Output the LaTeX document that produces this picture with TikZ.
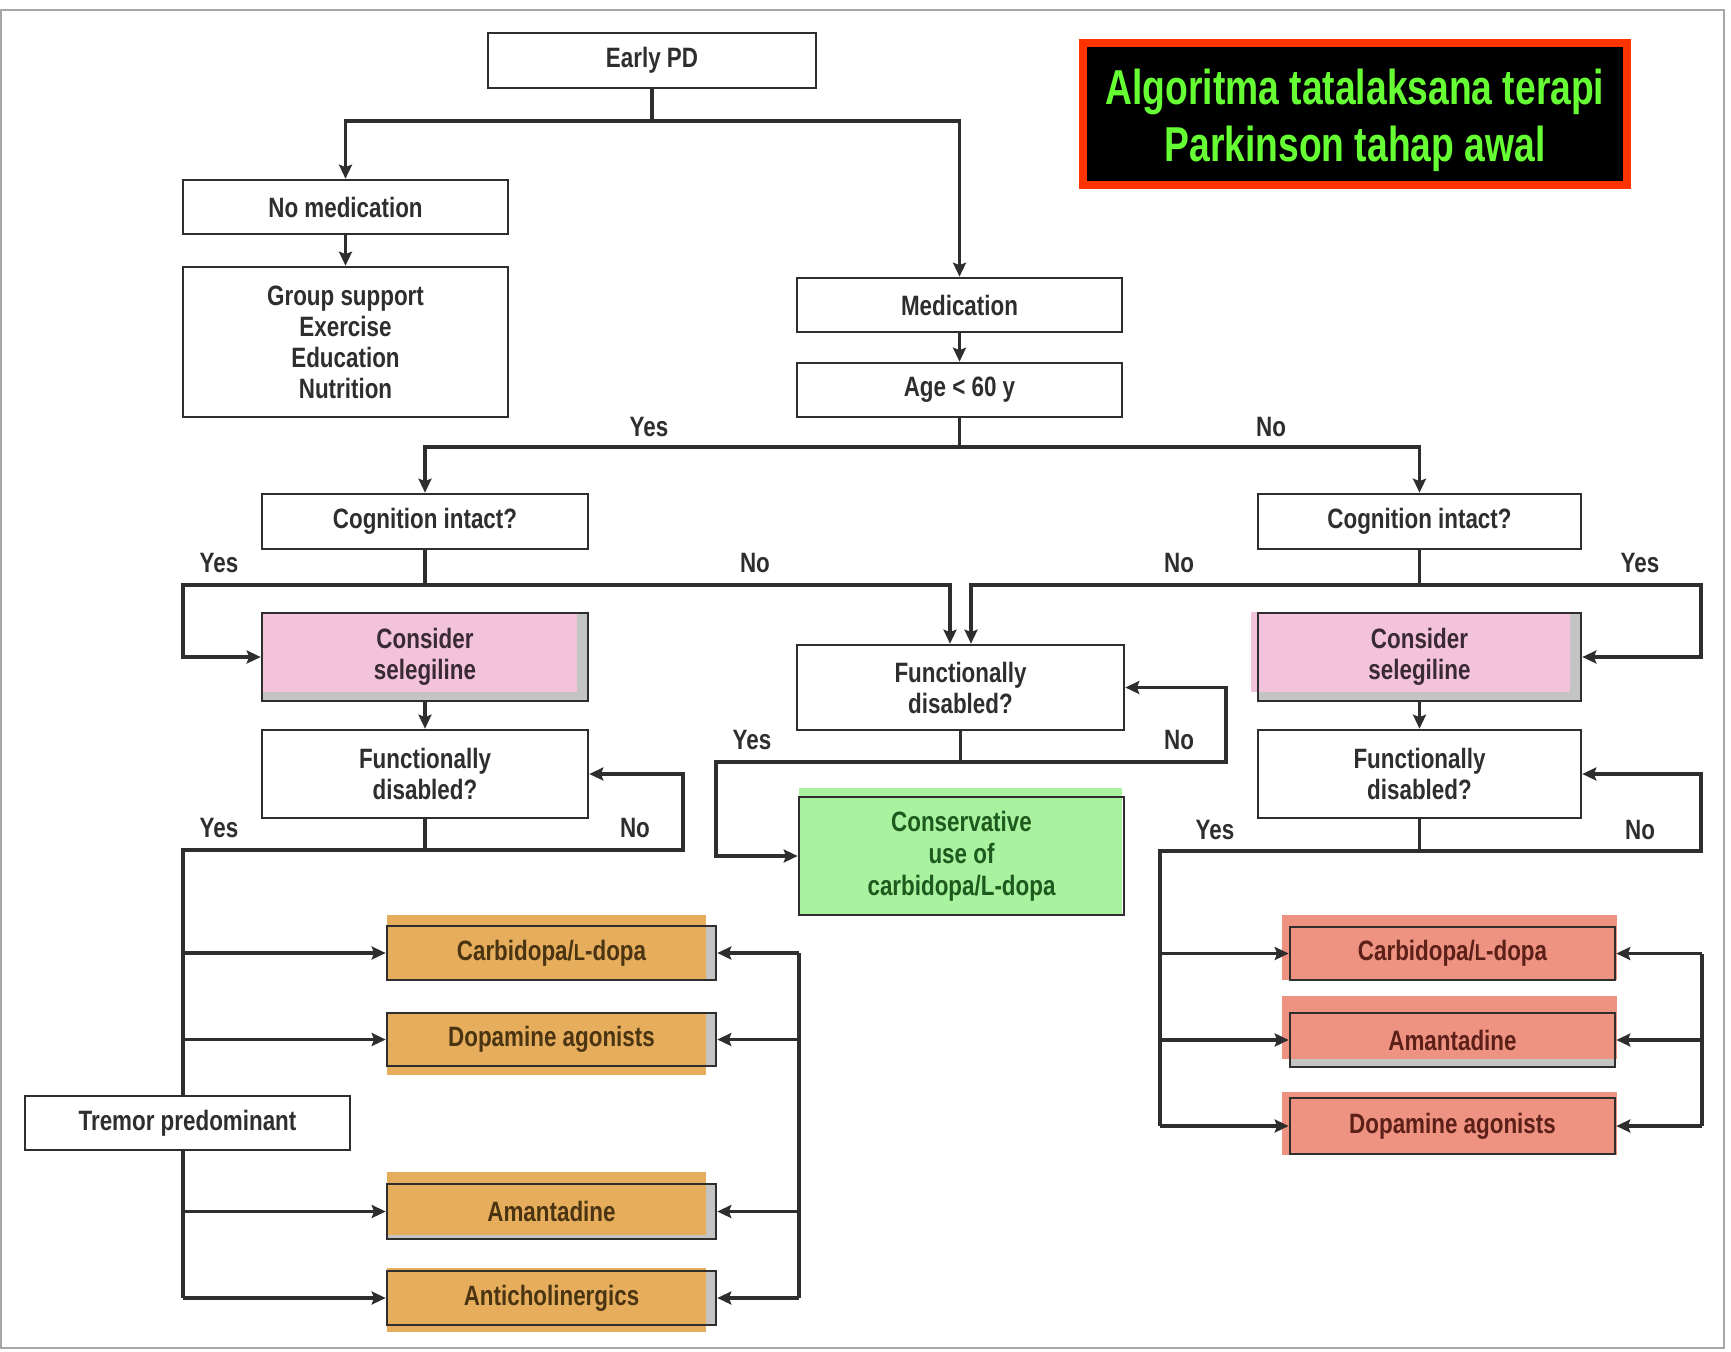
\documentclass[tikz,border=0pt]{standalone}
\usepackage{fontspec}
\setmainfont[FakeStretch=0.8]{Liberation Sans}
\newfontfamily\titlefont[FakeStretch=0.76]{Liberation Sans}
\usetikzlibrary{arrows.meta,calc}
\definecolor{ink}{HTML}{2E2E2E}
\definecolor{pinkhl}{HTML}{F2C3DA}
\definecolor{orangehl}{HTML}{E6AE5C}
\definecolor{redhl}{HTML}{EE9382}
\definecolor{greenhl}{HTML}{A9F29F}
\definecolor{titlered}{HTML}{FF3300}
\definecolor{titlegreen}{HTML}{66FF33}
\definecolor{pinkink}{HTML}{3A2A33}
\definecolor{orink}{HTML}{4A3412}
\definecolor{redink}{HTML}{5C2018}
\definecolor{greenink}{HTML}{1E5A1E}
\definecolor{boxshade}{HTML}{C4C4C4}
\newcommand\boxfont{\bfseries\fontsize{14}{15.5}\selectfont}
\newcommand\smL{{\fontsize{11.5}{13}\selectfont L}}
\pgfdeclarelayer{bg}
\pgfsetlayers{bg,main}
\tikzset{
  box/.style={draw=ink, line width=1.3pt, minimum width=162.5pt, minimum height=27pt,
    inner sep=0pt, align=center, font=\boxfont, text=ink},
  conn/.style={draw=ink, line width=1.9pt},
  arr/.style={conn, -{Stealth[length=7pt,width=6.5pt,inset=1.2pt]}},
  lbl/.style={font=\boxfont, text=ink, inner sep=0pt},
}
\begin{document}
\begin{tikzpicture}[x=0.5pt,y=-0.5pt]
\useasboundingbox (0,0) rectangle (1731,1351);
\draw[gray!70, line width=1pt] (1,10) rectangle (1724,1348);

% title
\node[draw=titlered, line width=4pt, fill=black, minimum width=272pt, minimum height=71pt,
  inner sep=0pt, align=center, text=titlegreen,
  font=\titlefont\bfseries\fontsize{24.5}{28.5}\selectfont] (title) at (1355,114)
  {\rule{0pt}{24.5pt}Algoritma tatalaksana terapi\\Parkinson tahap awal};

% nodes
\node[box, minimum width=164pt, minimum height=27.5pt] (early) at (652,60.5) {Early PD};
\node[box] (nomed) at (345.5,207) {No medication};
\node[box, minimum height=75pt] (group) at (345.5,342) {Group support\\Exercise\\Education\\Nutrition};
\node[box] (med) at (959.5,305) {Medication};
\node[box] (age) at (959.5,390) {Age < 60 y};
\node[box, minimum width=163pt, minimum height=27.5pt] (cogL) at (425,521.5) {Cognition intact?};
\node[box, minimum width=161.5pt, minimum height=27.5pt] (cogR) at (1419.5,521.5) {Cognition intact?};
\node[box, minimum width=163pt, minimum height=44pt, text=pinkink] (selL) at (425,657) {Consider\\selegiline};
\node[box, minimum width=161.5pt, minimum height=44pt, text=pinkink] (selR) at (1419.5,657) {Consider\\selegiline};
\node[box, minimum width=163pt, minimum height=44pt] (funL) at (425,774) {Functionally\\disabled?};
\node[box, minimum width=161.5pt, minimum height=44pt] (funR) at (1419.5,774) {Functionally\\disabled?};
\node[box, minimum width=163.5pt, minimum height=42.5pt] (funM) at (960.5,687.5) {Functionally\\disabled?};
\node[box, minimum height=59pt, text=greenink, font=\bfseries\fontsize{14}{16}\selectfont] (cons) at (961.5,856) {Conservative\\use of\\carbidopa/L-dopa};
\node[box, fill=white] (tremor) at (187.5,1123) {Tremor predominant};
\node[box, minimum width=164.5pt, text=orink] (carbL) at (551.5,953) {Carbidopa/\smL-dopa};
\node[box, minimum width=164.5pt, minimum height=26.5pt, text=orink] (dopaL) at (551.5,1039.5) {Dopamine agonists};
\node[box, minimum width=164.5pt, minimum height=27.5pt, text=orink] (amanL) at (551.5,1211.5) {Amantadine};
\node[box, minimum width=164.5pt, text=orink] (antiL) at (551.5,1298) {Anticholinergics};
\node[box, minimum height=26.5pt, text=redink] (carbR) at (1452.5,953.5) {Carbidopa/\smL-dopa};
\node[box, text=redink] (amanR) at (1452.5,1040) {Amantadine};
\node[box, minimum height=28pt, text=redink] (dopaR) at (1452.5,1126) {Dopamine agonists};

% highlights
\begin{pgfonlayer}{bg}
  \foreach \n in {selL,selR,carbL,dopaL,amanL,antiL,carbR,amanR,dopaR}
    \fill[boxshade] (\n.north west) rectangle (\n.south east);
  \fill[pinkhl] (261,612) rectangle (577,692);
  \fill[pinkhl] (1251,612) rectangle (1570,692);
  \fill[greenhl] (799,788) rectangle (1122,915);
  \fill[orangehl] (387,915) rectangle (706,980);
  \fill[orangehl] (387,1013) rectangle (706,1075);
  \fill[orangehl] (387,1172) rectangle (706,1235);
  \fill[orangehl] (387,1268) rectangle (706,1332);
  \fill[redhl] (1282,915) rectangle (1617,980);
  \fill[redhl] (1282,996) rectangle (1617,1059);
  \fill[redhl] (1282,1092) rectangle (1617,1155);
\end{pgfonlayer}

% connectors
\coordinate (j1) at (652,121);
\draw[conn] (early) -- (j1);
\draw[arr] (j1) -| (nomed);
\draw[arr] (j1) -| (med);
\draw[arr] (nomed) -- (group);
\draw[arr] (med) -- (age);

\coordinate (j2) at (959.5,447);
\draw[conn] (age) -- (j2);
\draw[arr] (j2) -| (cogL);
\draw[arr] (j2) -| (cogR);
\node[lbl] (yes1) at (649,427) {Yes};
\node[lbl] (no1) at (1271,427) {No};

\coordinate (j3) at (425,585);
\coordinate (c3l) at (183,585);
\coordinate (c3r) at (950,585);
\draw[conn] (cogL) -- (j3);
\draw[arr] (j3) -- (c3l) |- (selL);
\draw[arr] (j3) -- (c3r) -- (c3r |- funM.north);
\node[lbl] (yes2) at (219,563) {Yes};
\node[lbl] (no2) at (755,563) {No};

\coordinate (j4) at (1419.5,585);
\coordinate (c4l) at (971,585);
\coordinate (c4r) at (1701,585);
\draw[conn] (cogR) -- (j4);
\draw[arr] (j4) -- (c4r) |- (selR);
\draw[arr] (j4) -- (c4l) -- (c4l |- funM.north);
\node[lbl] (no3) at (1179,563) {No};
\node[lbl] (yes3) at (1640,563) {Yes};

\draw[arr] (selL) -- (funL);
\draw[arr] (selR) -- (funR);

\coordinate (j5) at (425,850);
\coordinate (c5l) at (183,850);
\coordinate (c5r) at (683,850);
\draw[conn] (funL) -- (j5) -- (c5l) -- (c5l |- tremor.north);
\draw[conn] (c5l |- tremor.south) -- (c5l |- antiL);
\draw[arr] (j5) -- (c5r) |- (funL);
\draw[arr] (c5l |- carbL) -- (carbL);
\draw[arr] (c5l |- dopaL) -- (dopaL);
\draw[arr] (c5l |- amanL) -- (amanL);
\draw[arr] (c5l |- antiL) -- (antiL);
\node[lbl] (yes4) at (219,828) {Yes};
\node[lbl] (no4) at (635,828) {No};

\coordinate (rL) at (799,953);
\draw[conn] (rL) -- (rL |- antiL);
\draw[arr] (rL) -- (carbL);
\draw[arr] (rL |- dopaL) -- (dopaL);
\draw[arr] (rL |- amanL) -- (amanL);
\draw[arr] (rL |- antiL) -- (antiL);

\coordinate (j6) at (960.5,762);
\coordinate (c6l) at (716,762);
\coordinate (c6r) at (1226,762);
\draw[conn] (funM) -- (j6);
\draw[arr] (j6) -- (c6l) |- (cons);
\draw[arr] (j6) -- (c6r) |- (funM);
\node[lbl] (yes5) at (752,740) {Yes};
\node[lbl] (no5) at (1179,740) {No};

\coordinate (j7) at (1419.5,851);
\coordinate (c7l) at (1160,851);
\coordinate (c7r) at (1701,851);
\draw[conn] (funR) -- (j7) -- (c7l) -- (c7l |- dopaR);
\draw[arr] (j7) -- (c7r) |- (funR);
\draw[arr] (c7l |- carbR) -- (carbR);
\draw[arr] (c7l |- amanR) -- (amanR);
\draw[arr] (c7l |- dopaR) -- (dopaR);
\node[lbl] (yes6) at (1215,830) {Yes};
\node[lbl] (no6) at (1640,830) {No};

\coordinate (rR) at (1702,953.5);
\draw[conn] (rR) -- (rR |- dopaR);
\draw[arr] (rR) -- (carbR);
\draw[arr] (rR |- amanR) -- (amanR);
\draw[arr] (rR |- dopaR) -- (dopaR);
\end{tikzpicture}
\end{document}
